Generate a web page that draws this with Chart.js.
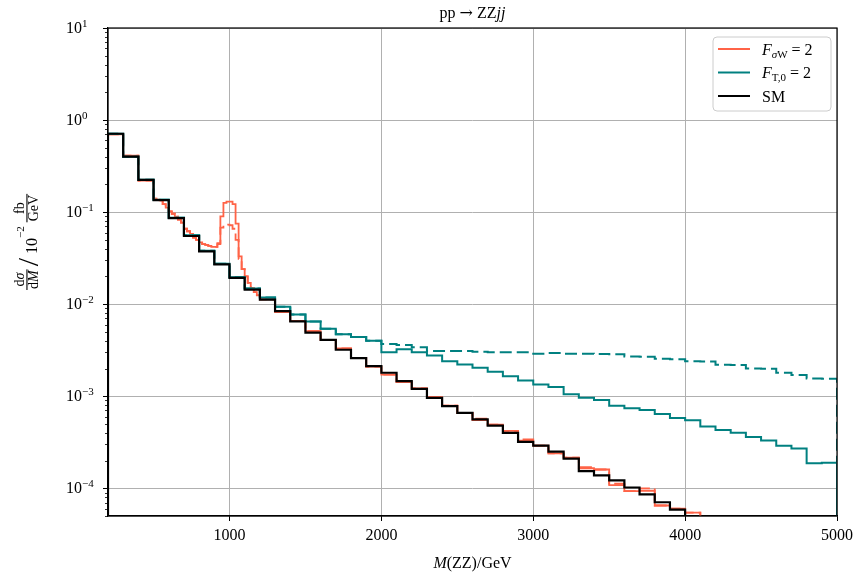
<!DOCTYPE html>
<html>
<head>
<meta charset="utf-8">
<script src="https://cdn.jsdelivr.net/npm/chart.js@4.4.0/dist/chart.umd.min.js"></script>
<style>
html, body { margin: 0; padding: 0; background: #fff; }
#wrap { width: 858px; height: 576px; }
</style>
</head>
<body>
<div id="wrap"><canvas id="chart" width="858" height="576"></canvas></div>
<script>
// bin edges (GeV) and values (d sigma / dM in 10^-2 fb/GeV)
const smEdges = [200, 300, 400, 500, 600, 700, 800, 900, 1000, 1100, 1200, 1300, 1400, 1500, 1600, 1700, 1800, 1900, 2000,
    2100, 2200, 2300, 2400, 2500, 2600, 2700, 2800, 2900, 3000, 3100, 3200, 3300, 3400, 3500, 3600, 3700, 3800, 3900, 4000];
const smValues = [0.71, 0.40, 0.224, 0.135, 0.086, 0.055, 0.0375, 0.027, 0.0193, 0.0144, 0.0112, 0.0084, 0.0065, 0.0049,
    0.0041, 0.0032, 0.0026, 0.00212, 0.0018, 0.00146, 0.0012, 0.00096, 0.00078, 0.00066, 0.00056, 0.00048, 0.0004,
    0.00032, 0.00029, 0.00025, 0.00021, 0.000154, 0.000138, 0.000122, 0.000102, 0.000086, 0.0000705, 0.0000585];

const ft0Edges = [200, 300, 400, 500, 600, 700, 800, 900, 1000, 1100, 1200, 1300, 1400, 1500, 1600, 1700, 1800, 1900, 2000,
    2100, 2200, 2300, 2400, 2500, 2600, 2700, 2800, 2900, 3000, 3100, 3200, 3300, 3400, 3500, 3600, 3700, 3800, 3900, 4000,
    4100, 4200, 4300, 4400, 4500, 4600, 4700, 4800, 4900, 5000];
const ft0Values = [0.71, 0.40, 0.225, 0.136, 0.087, 0.056, 0.038, 0.0275, 0.0196, 0.0148, 0.0118, 0.0094, 0.0077, 0.0065,
    0.0054, 0.0047, 0.0044, 0.0040, 0.0030, 0.00323, 0.0030, 0.00277, 0.0024, 0.00221, 0.00204, 0.00184, 0.00165,
    0.00148, 0.00134, 0.00126, 0.00105, 0.00096, 0.00091, 0.00079, 0.00074, 0.00071, 0.00064, 0.00058, 0.00055,
    0.00047, 0.00043, 0.0004, 0.00036, 0.00033, 0.00029, 0.00027, 0.000187, 0.00019];
const ft0DashValues = [0.71, 0.40, 0.225, 0.136, 0.087, 0.056, 0.038, 0.0275, 0.0196, 0.0148, 0.0118, 0.0094, 0.0077, 0.0065,
    0.0054, 0.0047, 0.0044, 0.0040, 0.0037, 0.0036, 0.0034, 0.0031, 0.0031, 0.0031, 0.00305, 0.0030, 0.0030,
    0.0030, 0.0029, 0.00295, 0.0029, 0.0029, 0.00288, 0.00285, 0.0027, 0.00268, 0.00255, 0.00252, 0.0024,
    0.00238, 0.0022, 0.00218, 0.0020, 0.00199, 0.0018, 0.0017, 0.00156, 0.00155];

const fswEdges = [200, 300, 400, 500, 520, 540, 560, 580, 600, 620, 640, 660, 680, 700, 720, 740, 760, 780, 800, 820, 840,
    860, 880, 900, 920, 940, 960, 980, 1000, 1020, 1040, 1060, 1080, 1100, 1120, 1140, 1160, 1180, 1200, 1300, 1400,
    1500, 1600, 1700, 1800, 1900, 2000, 2100, 2200, 2300, 2400, 2500, 2600, 2700, 2800, 2900, 3000, 3100, 3200, 3300,
    3400, 3500, 3600, 3700, 3800, 3900, 4000, 4100];
const fswValues = [0.70, 0.41, 0.22, 0.14, 0.137, 0.134, 0.122, 0.112, 0.102, 0.096, 0.089, 0.083, 0.077, 0.066, 0.062,
    0.058, 0.053, 0.050, 0.047, 0.045, 0.044, 0.043, 0.042, 0.042, 0.046, 0.090, 0.126, 0.130, 0.130, 0.122, 0.075,
    0.033, 0.024, 0.020, 0.017, 0.015, 0.0135, 0.0125, 0.0113, 0.0082, 0.0066, 0.0051, 0.0041, 0.0033, 0.0026, 0.0021,
    0.00172, 0.00142, 0.00122, 0.00098, 0.00079, 0.00066, 0.00055, 0.00049, 0.00042, 0.00033, 0.00029, 0.00024,
    0.000215, 0.000165, 0.00016, 0.000108, 0.000093, 0.000094, 0.000065, 0.00006, 0.0000545];
const fswDashValues = [0.70, 0.41, 0.22, 0.14, 0.137, 0.134, 0.122, 0.112, 0.102, 0.096, 0.089, 0.083, 0.077, 0.066, 0.062,
    0.058, 0.053, 0.050, 0.047, 0.045, 0.044, 0.043, 0.042, 0.042, 0.045, 0.068, 0.072, 0.073, 0.072, 0.066, 0.050,
    0.031, 0.024, 0.020, 0.017, 0.015, 0.0135, 0.0125, 0.0113, 0.0082, 0.0066, 0.0051, 0.0041, 0.0033, 0.0026, 0.0021,
    0.00172, 0.00142, 0.00122, 0.00098, 0.00079, 0.00066, 0.00057, 0.00049, 0.00042, 0.00034, 0.00029, 0.00024,
    0.000215, 0.00017, 0.00016, 0.000112, 0.000093, 0.0001, 0.000065, 0.00006, 0.0000545];

// axis ticks
const xTicks = [1000, 2000, 3000, 4000, 5000];
const yMajorExps = [-4, -3, -2, -1, 0, 1];
const yMinorSteps = [2, 3, 4, 5, 6, 7, 8, 9];

const RED = '#ff6347';
const TEAL = '#008080';
const FLOOR = 1e-7;
const SERIF = '"Liberation Serif", "DejaVu Serif", serif';
const font = (size, italic, family) => (italic ? 'italic ' : '') + size + 'px ' + (family || SERIF);

// histogram outline in the style of histtype="step"
const stepPoints = (edges, values) => {
    const pts = [{ x: edges[0], y: FLOOR }];
    values.forEach((v, i) => pts.push({ x: edges[i], y: v }));
    pts.push({ x: edges[edges.length - 1], y: values[values.length - 1] });
    pts.push({ x: edges[edges.length - 1], y: FLOOR });
    return pts;
};

// draw a list of text pieces with mixed fonts, left to right
const drawRuns = (ctx, runs, x, y, align) => {
    let total = 0;
    runs.forEach(r => { ctx.font = r.f; total += ctx.measureText(r.t).width; });
    let cx = align === 'center' ? x - total / 2 : x;
    ctx.textAlign = 'left';
    runs.forEach(r => {
        ctx.font = r.f;
        ctx.fillText(r.t, cx, y + (r.dy || 0));
        cx += ctx.measureText(r.t).width;
    });
    return total;
};

const legendItems = [
    { color: RED, runs: [{ t: 'F', f: font(16, true) }, { t: 'σ', f: font(11, true), dy: 3 }, { t: 'W', f: font(11), dy: 3 }, { t: ' = 2', f: font(16) }] },
    { color: TEAL, runs: [{ t: 'F', f: font(16, true) }, { t: 'T,0', f: font(11), dy: 3 }, { t: ' = 2', f: font(16) }] },
    { color: '#000', runs: [{ t: 'SM', f: font(16) }] }
];

const decorations = {
    id: 'decorations',
    afterDraw(chart) {
        const ctx = chart.ctx;
        const area = chart.chartArea;
        const yScale = chart.scales.y;
        ctx.save();
        ctx.fillStyle = '#000';
        ctx.strokeStyle = '#000';
        ctx.textBaseline = 'alphabetic';

        // frame
        ctx.lineWidth = 1.2;
        ctx.strokeRect(area.left, area.top, area.right - area.left, area.bottom - area.top);

        // minor y ticks
        ctx.lineWidth = 0.8;
        ctx.beginPath();
        for (let e = -5; e <= 0; e++) {
            yMinorSteps.forEach(k => {
                const v = k * Math.pow(10, e);
                if (v < yScale.min || v > yScale.max) return;
                const py = Math.round(yScale.getPixelForValue(v)) + 0.5;
                ctx.moveTo(area.left - 3, py);
                ctx.lineTo(area.left, py);
            });
        }
        ctx.stroke();

        // y tick labels 10^n
        yMajorExps.forEach(e => {
            const py = yScale.getPixelForValue(Math.pow(10, e));
            const sup = e < 0 ? '−' + (-e) : String(e);
            drawRuns(ctx, [{ t: '10', f: font(16) }, { t: sup, f: font(11), dy: -6 }], 66, py + 5);
        });

        // title and x label
        const cx = (area.left + area.right) / 2;
        drawRuns(ctx, [{ t: 'pp ', f: font(16) }, { t: '→', f: font(16, false, '"DejaVu Serif", serif') }, { t: ' ZZ', f: font(16) }, { t: 'jj', f: font(16, true) }], cx, 18, 'center');
        drawRuns(ctx, [{ t: 'M', f: font(16, true) }, { t: '(ZZ)/GeV', f: font(16) }], cx, 568, 'center');

        // y label, rotated
        ctx.save();
        ctx.translate(27, 290);
        ctx.rotate(-Math.PI / 2);
        const frac = (x0, num, den) => {
            let wn = 0, wd = 0;
            num.forEach(r => { ctx.font = r.f; wn += ctx.measureText(r.t).width; });
            den.forEach(r => { ctx.font = r.f; wd += ctx.measureText(r.t).width; });
            const w = Math.max(wn, wd) + 2;
            drawRuns(ctx, num, x0 + w / 2, -3, 'center');
            drawRuns(ctx, den, x0 + w / 2, 11, 'center');
            ctx.fillRect(x0, -0.6, w, 1.1);
            return x0 + w;
        };
        let xp = frac(0, [{ t: 'd', f: font(14) }, { t: 'σ', f: font(14, true) }], [{ t: 'd', f: font(14) }, { t: 'M', f: font(14, true) }]);
        xp += 3;
        ctx.font = font(30);
        ctx.fillText('/', xp, 11);
        xp += ctx.measureText('/').width + 4;
        xp += drawRuns(ctx, [{ t: '10', f: font(16) }], xp, 10);
        xp += drawRuns(ctx, [{ t: '−2', f: font(11) }], xp, -3);
        xp += 4;
        frac(xp, [{ t: 'fb', f: font(14) }], [{ t: 'GeV', f: font(14) }]);
        ctx.restore();

        // legend
        const bx = 713, by = 37, bw = 118, bh = 74, r = 4;
        ctx.beginPath();
        ctx.moveTo(bx + r, by);
        ctx.arcTo(bx + bw, by, bx + bw, by + bh, r);
        ctx.arcTo(bx + bw, by + bh, bx, by + bh, r);
        ctx.arcTo(bx, by + bh, bx, by, r);
        ctx.arcTo(bx, by, bx + bw, by, r);
        ctx.closePath();
        ctx.fillStyle = 'rgba(255,255,255,0.8)';
        ctx.fill();
        ctx.strokeStyle = '#cccccc';
        ctx.lineWidth = 1;
        ctx.stroke();
        legendItems.forEach((item, i) => {
            const ly = 49 + i * 23.5;
            ctx.strokeStyle = item.color;
            ctx.lineWidth = 2;
            ctx.beginPath();
            ctx.moveTo(718, ly);
            ctx.lineTo(750, ly);
            ctx.stroke();
            ctx.fillStyle = '#000';
            drawRuns(ctx, item.runs, 762, ly + 5.5);
        });
        ctx.restore();
    }
};

const histDataset = (edges, values, color, dashed, order, width) => ({
    data: stepPoints(edges, values),
    borderColor: color,
    borderWidth: width,
    borderDash: dashed ? [12, 5] : [],
    borderJoinStyle: 'miter',
    stepped: 'before',
    pointRadius: 0,
    fill: false,
    order: order
});

const gridOpts = { color: '#b0b0b0', lineWidth: 1, tickColor: '#000', tickLength: 5, tickWidth: 1 };
const borderOpts = { color: '#000', width: 1.2 };

new Chart(document.getElementById('chart'), {
    type: 'line',
    data: {
        datasets: [
            histDataset(smEdges, smValues, '#000', false, 0, 2.2),
            histDataset(ft0Edges, ft0DashValues, TEAL, true, 1, 2),
            histDataset(ft0Edges, ft0Values, TEAL, false, 2, 2),
            histDataset(fswEdges, fswDashValues, RED, true, 3, 1.8),
            histDataset(fswEdges, fswValues, RED, false, 4, 1.8)
        ]
    },
    options: {
        responsive: false,
        devicePixelRatio: 1,
        animation: false,
        events: [],
        layout: { padding: { left: 0, right: 20, top: 28, bottom: 0 } },
        plugins: { legend: { display: false }, title: { display: false }, tooltip: { enabled: false } },
        scales: {
            x: {
                type: 'linear',
                min: 200,
                max: 5000,
                afterBuildTicks: s => { s.ticks = xTicks.map(v => ({ value: v })); },
                afterFit: s => { s.height = 60; },
                ticks: { callback: v => String(v), font: { family: SERIF, size: 16 }, color: '#000', padding: 5, maxRotation: 0, autoSkip: false },
                grid: gridOpts,
                border: borderOpts
            },
            y: {
                type: 'logarithmic',
                min: 5e-5,
                max: 10,
                afterBuildTicks: s => { s.ticks = yMajorExps.map(e => ({ value: Math.pow(10, e) })); },
                afterFit: s => { s.width = 108; },
                ticks: { display: false },
                grid: gridOpts,
                border: borderOpts
            }
        }
    },
    plugins: [decorations]
});
</script>
</body>
</html>
